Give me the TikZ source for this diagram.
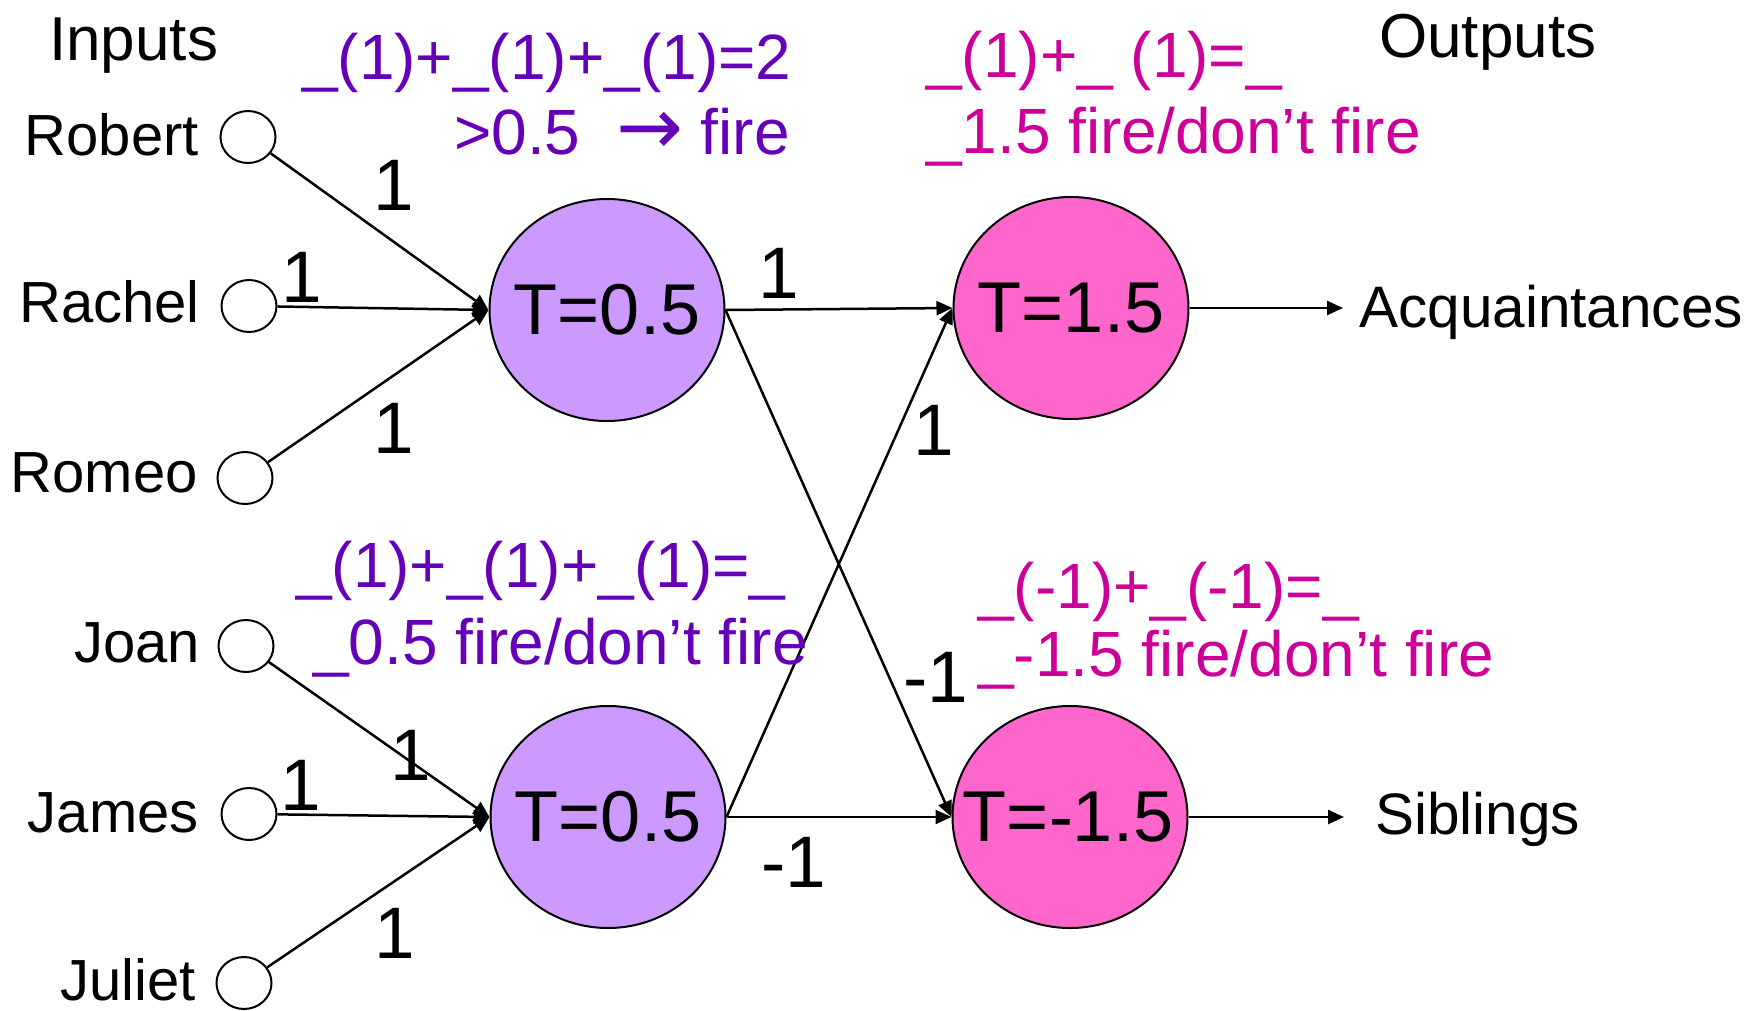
\documentclass[tikz,border=0pt]{standalone}
\usepackage{fontspec}
\setmainfont{Liberation Sans}
\newfontfamily\arrfont{DejaVu Sans}
\usetikzlibrary{shapes.geometric,arrows.meta}
\definecolor{annpurple}{HTML}{6600B8}
\definecolor{annpink}{HTML}{CC0099}
\definecolor{neurpurple}{HTML}{CC99FF}
\definecolor{neurpink}{HTML}{FF66CC}
\begin{document}
\begin{tikzpicture}[x=1pt,y=-1pt,
  inp/.style={ellipse,draw,line width=2pt,minimum width=55pt,minimum height=52pt,inner sep=0pt},
  neuron/.style={ellipse,draw,line width=2pt,minimum width=235pt,minimum height=222pt,inner sep=0pt},
  tlabel/.style={font=\fontsize{72}{80}\selectfont,inner sep=0pt},
  lbl/.style={font=\fontsize{58}{66}\selectfont,inner sep=0pt,anchor=base east},
  outlbl/.style={font=\fontsize{58.5}{66}\selectfont,inner sep=0pt,anchor=base west},
  hdr/.style={font=\fontsize{62}{70}\selectfont,inner sep=0pt,anchor=base west},
  wt/.style={font=\fontsize{73}{80}\selectfont,inner sep=0pt,anchor=base},
  ann/.style={font=\fontsize{64}{72}\selectfont,inner sep=0pt,anchor=base west},
  conn/.style={line width=2.5pt,-{Triangle[length=16pt,width=14pt]}},
]
\useasboundingbox (0,0) rectangle (1754,1010);

% headers
\node[hdr] (inh) at (49,60) {Inputs};
\node[hdr] (outh) at (1379,57) {Outputs};

% input labels
\node[lbl] (lrobert) at (199,155) {Robert};
\node[lbl] (lrachel) at (200,322) {Rachel};
\node[lbl] (lromeo) at (198,492) {Romeo};
\node[lbl] (ljoan) at (200,662) {Joan};
\node[lbl] (ljames) at (199,832) {James};
\node[lbl] (ljuliet) at (196,1000) {Juliet};

% input circles
\node[inp] (robert) at (248,137) {};
\node[inp] (rachel) at (249,306) {};
\node[inp] (romeo) at (245,478) {};
\node[inp] (joan) at (246,646) {};
\node[inp] (james) at (249,814) {};
\node[inp] (juliet) at (244,983) {};

% neurons
\node[neuron,fill=neurpurple] (n1) at (607,310) {};
\node[tlabel] (n1t) at (n1) {T=0.5};
\node[neuron,fill=neurpurple] (n2) at (608,817) {};
\node[tlabel] (n2t) at (n2) {T=0.5};
\node[neuron,fill=neurpink] (p1) at (1071,308) {};
\node[tlabel] (p1t) at (p1) {T=1.5};
\node[neuron,fill=neurpink] (p2) at (1070,817) {};
\node[tlabel] (p2t) at (1068,817) {T=-1.5};

% output ends and labels
\coordinate (acqtip) at (1343,308);
\coordinate (sibtip) at (1344,817);
\node[outlbl] (acq) at (1359,327) {Acquaintances};
\node[outlbl] (sib) at (1375,834) {Siblings};

% connectors
\draw[conn] (robert) -- (n1.west);
\draw[conn] (rachel) -- (n1.west);
\draw[conn] (romeo) -- (n1.west);
\draw[conn] (joan) -- (n2.west);
\draw[conn] (james) -- (n2.west);
\draw[conn] (juliet) -- (n2.west);
\draw[conn] (n1.east) -- (p1.west);
\draw[conn] (n1.east) -- (p2.west);
\draw[conn] (n2.east) -- (p1.west);
\draw[conn] (n2.east) -- (p2.west);
\draw[conn] (p1.east) -- (acqtip);
\draw[conn] (p2.east) -- (sibtip);

% weights
\node[wt] (w1) at (394,210) {1};
\node[wt] (w2) at (302,302) {1};
\node[wt] (w3) at (394,453) {1};
\node[wt] (w4) at (411,780) {1};
\node[wt] (w5) at (301,810) {1};
\node[wt] (w6) at (395,958) {1};
\node[wt] (w7) at (779,298) {1};
\node[wt] (w8) at (934,455) {1};
\node[wt] (w9) at (936,702) {-1};
\node[wt] (w10) at (794,887) {-1};

% annotations
\node[ann,text=annpurple] (a1) at (302,79) {\_(1)+\_(1)+\_(1)=2};
\node[ann,text=annpurple,anchor=base east] (a2) at (790,154) {>0.5\ \ {\arrfont\fontsize{80}{80}\selectfont →} fire};
\node[ann,text=annpink] (b1) at (926,77) {\_(1)+\_ (1)=\_};
\node[ann,text=annpink] (b2) at (926,153) {\_1.5 fire/don’t fire};
\node[ann,text=annpurple] (c1) at (296,587) {\_(1)+\_(1)+\_(1)=\_};
\node[ann,text=annpurple] (c2) at (313,664) {\_0.5 fire/don’t fire};
\node[ann,text=annpink] (d1) at (978,608) {\_(-1)+\_(-1)=\_};
\node[ann,text=annpink] (d2) at (978,676) {\_-1.5 fire/don’t fire};
\end{tikzpicture}
\end{document}
